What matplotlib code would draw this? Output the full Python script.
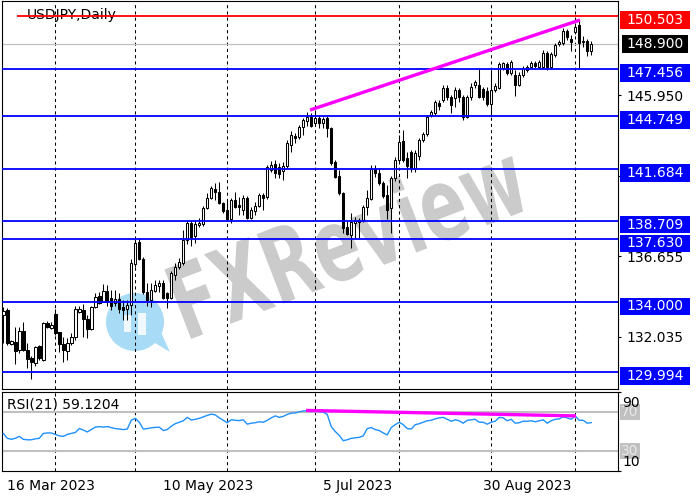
import numpy as np
import pandas as pd
import matplotlib
matplotlib.use('Agg')
import matplotlib.pyplot as plt
import matplotlib.transforms as mtransforms
from matplotlib.patches import Rectangle, Circle, Polygon, PathPatch
from matplotlib.textpath import TextPath
from matplotlib.font_manager import FontProperties

symbol = 'USDJPY,Daily'
start_date = '2023-03-15'

opens = [133.28, 133.57, 131.61, 131.72, 131.26, 132.36, 131.26, 130.80, 130.51, 131.49,
         130.68, 132.82, 132.53, 133.34, 132.30, 131.61, 131.20, 131.66, 132.01, 133.45,
         133.57, 133.05, 132.47, 133.74, 134.37, 134.03, 134.66, 134.26, 133.97, 134.20,
         133.74, 133.62, 133.85, 136.22, 137.48, 136.51, 134.60, 134.14, 134.66, 134.95,
         135.12, 134.55, 134.26, 135.58, 136.04, 136.28, 137.60, 138.58, 137.83, 138.46,
         138.52, 139.44, 140.02, 140.54, 140.37, 139.73, 139.33, 138.81, 139.91, 139.62,
         139.33, 140.02, 138.87, 139.27, 139.56, 140.19, 140.08, 141.64, 141.98, 141.81,
         141.58, 141.87, 143.08, 143.59, 143.54, 144.11, 144.46, 144.69, 144.34, 144.63,
         144.34, 144.63, 144.06, 142.10, 141.29, 140.31, 138.35, 137.89, 138.58, 138.64,
         138.75, 139.50, 139.96, 141.69, 141.46, 140.89, 140.19, 139.44, 141.17, 142.21,
         143.31, 142.33, 142.67, 141.75, 142.44, 143.36, 143.71, 144.80, 144.92, 145.50,
         145.67, 146.36, 145.84, 145.78, 146.25, 145.84, 144.69, 145.84, 146.53, 146.53,
         146.30, 146.19, 145.44, 146.25, 146.36, 147.51, 147.74, 147.23, 147.11, 146.53,
         147.11, 147.40, 147.57, 147.80, 147.57, 147.57, 148.38, 147.57, 148.26, 148.90,
         148.96, 149.65, 149.18, 149.59, 149.99, 149.01, 149.07, 148.49]
highs = [133.74, 133.68, 131.84, 132.58, 132.58, 132.87, 131.66, 130.91, 131.49, 131.55,
         132.87, 132.93, 132.87, 133.62, 132.30, 132.01, 131.95, 132.24, 133.80, 133.80,
         133.91, 133.28, 133.80, 134.55, 134.60, 135.06, 135.01, 134.72, 134.72, 134.55,
         134.14, 134.14, 136.51, 137.66, 137.72, 136.62, 135.12, 135.12, 135.30, 135.30,
         135.30, 134.60, 135.81, 136.28, 136.56, 138.18, 138.75, 138.70, 138.75, 138.87,
         139.56, 140.31, 140.71, 140.89, 140.94, 139.79, 139.91, 140.02, 140.37, 140.08,
         140.19, 140.14, 139.50, 139.79, 140.31, 140.31, 141.92, 142.15, 142.21, 142.04,
         142.10, 143.36, 143.88, 143.77, 144.23, 144.63, 144.98, 144.92, 145.09, 144.75,
         144.69, 144.75, 144.11, 142.21, 141.64, 140.37, 138.70, 139.16, 138.93, 138.87,
         139.62, 140.48, 141.92, 141.92, 141.75, 141.00, 140.77, 141.29, 142.38, 143.65,
         143.94, 142.67, 142.79, 142.79, 143.48, 143.83, 144.80, 145.09, 145.67, 145.67,
         146.53, 146.53, 145.96, 146.42, 146.36, 145.96, 145.96, 146.65, 146.82, 147.51,
         146.42, 146.42, 147.40, 146.65, 147.86, 147.86, 147.86, 147.98, 147.40, 147.28,
         147.63, 147.69, 147.92, 147.92, 147.98, 148.55, 148.49, 148.44, 148.96, 149.13,
         149.82, 149.76, 149.42, 150.11, 150.22, 149.36, 149.18, 149.07]
lows = [131.66, 131.55, 131.55, 130.45, 131.09, 131.20, 130.22, 129.59, 130.34, 130.68,
        130.63, 132.53, 132.47, 132.12, 131.15, 130.57, 130.68, 131.55, 131.84, 133.39,
        132.01, 131.95, 132.41, 133.68, 133.91, 134.03, 133.80, 133.57, 133.80, 133.39,
        132.99, 132.99, 133.28, 136.04, 136.45, 134.49, 133.80, 133.74, 134.60, 134.60,
        134.20, 133.68, 134.20, 135.30, 135.93, 136.16, 137.37, 137.25, 137.43, 138.35,
        138.41, 139.39, 139.96, 139.91, 139.67, 139.16, 138.75, 138.58, 139.44, 139.04,
        139.04, 138.81, 138.81, 139.04, 139.50, 139.33, 139.96, 141.52, 141.17, 141.17,
        141.06, 141.75, 142.67, 143.19, 143.42, 143.65, 144.17, 144.11, 144.23, 144.06,
        144.06, 143.54, 141.92, 141.17, 140.19, 138.00, 137.89, 137.14, 137.72, 137.72,
        138.64, 139.04, 139.91, 141.23, 140.77, 140.02, 138.81, 138.00, 141.00, 142.10,
        142.10, 141.17, 141.52, 141.52, 142.21, 143.25, 143.59, 144.69, 144.80, 145.09,
        145.55, 145.67, 144.92, 145.27, 145.55, 144.52, 144.63, 145.67, 146.36, 145.78,
        145.67, 145.32, 144.80, 146.13, 146.30, 147.40, 147.11, 147.11, 145.90, 146.48,
        146.99, 147.28, 147.51, 147.51, 147.51, 147.46, 147.40, 147.46, 148.15, 148.78,
        148.84, 149.13, 148.49, 149.47, 147.51, 148.72, 148.20, 148.26]
closes = [133.51, 131.66, 131.78, 131.20, 132.36, 131.26, 130.74, 130.57, 131.43, 130.80,
          132.82, 132.59, 132.70, 132.24, 131.61, 131.26, 131.66, 132.01, 133.62, 133.62,
          133.05, 132.47, 133.74, 134.32, 133.97, 134.66, 134.03, 133.80, 134.20, 133.62,
          133.57, 133.85, 136.28, 137.43, 136.51, 134.60, 134.14, 134.72, 135.01, 135.12,
          134.26, 134.26, 135.70, 136.04, 136.33, 137.60, 138.58, 137.77, 138.52, 138.58,
          139.44, 140.02, 140.60, 140.37, 139.73, 139.27, 138.81, 139.91, 139.50, 139.50,
          140.02, 138.87, 139.33, 139.56, 140.19, 140.02, 141.81, 141.92, 141.46, 141.40,
          141.87, 143.19, 143.65, 143.48, 144.11, 144.52, 144.69, 144.17, 144.63, 144.34,
          144.57, 144.06, 142.04, 141.23, 140.31, 138.29, 137.94, 138.64, 138.70, 138.75,
          139.50, 140.02, 141.69, 141.46, 140.89, 140.14, 139.33, 141.17, 142.21, 143.25,
          142.21, 141.87, 141.75, 142.62, 143.36, 143.71, 144.69, 144.98, 145.55, 145.32,
          146.36, 145.84, 145.38, 146.25, 145.84, 144.69, 145.84, 146.42, 146.71, 145.84,
          145.84, 145.44, 146.25, 146.48, 147.74, 147.80, 147.23, 147.86, 146.53, 147.11,
          147.51, 147.57, 147.80, 147.63, 147.86, 148.38, 147.57, 148.32, 148.84, 149.01,
          149.65, 149.30, 149.01, 149.88, 148.96, 149.07, 148.49, 148.90]
rsi = [48, 43, 42, 43, 45, 42, 41.5, 41.5, 42.5, 43,
       48, 48.5, 48.5, 47, 45.5, 45, 47, 48, 49, 53,
       51.5, 49.5, 52, 54.5, 55, 54.5, 55, 54, 53, 52.5,
       52, 52.5, 61.5, 63.5, 59.5, 52.5, 53, 53.8, 54.2, 54.4,
       51, 52, 55.5, 58, 59.5, 61, 64.5, 61.8, 62.5, 63.5,
       65, 66.5, 67.8, 67, 64, 61.5, 59, 62, 61.5, 61.2,
       62, 57.5, 58.5, 59, 60, 59.5, 61.5, 64, 66, 64.5,
       65.5, 67.5, 68.8, 69, 70.2, 71, 71.3, 70.5, 71, 70.3,
       69.8, 67.5, 55, 50, 46, 40.6, 41.5, 43, 43.5, 44,
       45.5, 53, 54, 52, 51, 48.5, 46.5, 54, 57, 59.5,
       57, 53, 52.5, 57, 58, 59.5, 61, 61.5, 63, 64,
       64.5, 62.5, 60.5, 62, 61, 58.5, 61.5, 62, 62.5, 59.5,
       59.5, 57.5, 59.5, 60.5, 64.5, 64, 61, 62.5, 58.5, 59,
       60.5, 60.5, 61, 60, 61, 62, 58.5, 61, 62.5, 63,
       65, 64, 62.5, 66, 61.5, 61.5, 58.5, 59.1204]

levels = [150.503, 147.456, 144.749, 141.684, 138.709, 137.630, 134.000, 129.994]
level_colors = ['#ff0000', '#0000ff', '#0000ff', '#0000ff', '#0000ff', '#0000ff', '#0000ff', '#0000ff']
axis_ticks = [145.950, 141.290, 136.655, 132.035]
date_labels = ['16 Mar 2023', '10 May 2023', '5 Jul 2023', '30 Aug 2023']
trend_idx = [76.7, 144.2]
trend_px = [145.09, 150.28]
rsi_trend_idx = [75.7, 143.2]
rsi_trend_val = [71.6, 66.0]
rsi_levels = [70, 30]

W, H = 700, 500
fig = plt.figure(figsize=(7, 5), dpi=100)
ax = fig.add_axes([2 / W, 1 - 389 / H, 616 / W, 388.5 / H])
ax2 = fig.add_axes([2 / W, 1 - 470.7 / H, 616 / W, 78.7 / H])
px = mtransforms.IdentityTransform()

n = len(closes)
idx = np.arange(n)
dates = pd.bdate_range(start_date, periods=n)
o, h, l, c = map(np.array, (opens, highs, lows, closes))
xlim = (-0.33, 153.7)

# candles
ax.vlines(idx, l, h, color='black', lw=0.75, zorder=3)
ax.bar(idx, np.maximum(np.abs(c - o), 0.015), bottom=np.minimum(o, c), width=0.6,
       color=np.where(c >= o, 'white', 'black'), edgecolor='black', linewidth=0.75, zorder=4)

# month separators
month_start = [i for i in range(1, n) if dates[i].month != dates[i - 1].month]
for a in (ax, ax2):
    for i in month_start:
        a.axvline(i, color='black', lw=0.75, ls=(0, (3, 3)), zorder=1)
    a.set_xlim(*xlim)
    for s in a.spines.values():
        s.set_linewidth(0.8)

# levels
for lev, col in zip(levels, level_colors):
    x0 = 3.4 if col == '#ff0000' else xlim[0]
    ax.hlines(lev, x0, xlim[1], color=col, lw=1.3, zorder=5)
ax.axhline(closes[-1], color='#c0c0c0', lw=0.9, zorder=2)
ax.plot(trend_idx, trend_px, color='#ff00ff', lw=2.4, solid_capstyle='butt', zorder=6)

ax.set_ylim(129.012, 151.404)
ax.yaxis.tick_right()
ax.set_yticks(axis_ticks, [f'{t:.3f}' for t in axis_ticks])
ax.tick_params(axis='y', length=2.5, width=0.8, pad=3.5, labelsize=10)
ax.set_xticks([])
ax.text(0.0406, 0.963, symbol, transform=ax.transAxes, fontsize=10, va='center', ha='left', zorder=2)

# watermark (tall, narrow lettering)
tp = TextPath((0, 0), 'FXReview', size=68, prop=FontProperties(family='DejaVu Sans', weight='bold'))
ext = tp.get_extents()
wm_tr = (mtransforms.Affine2D()
         .translate(-(ext.x0 + ext.x1) / 2, -(ext.y0 + ext.y1) / 2)
         .scale(1.0, 1.5).rotate_deg(21).translate(348, 262))
ax.add_patch(PathPatch(tp, transform=wm_tr, facecolor='#cbcbcb', edgecolor='none', zorder=0.5))
ax.add_patch(Circle((135, 178), 29, transform=px, facecolor='#a8dcf6', edgecolor='none', zorder=0.6))
ax.add_patch(Polygon([(150, 160), (170, 148), (160, 170)], transform=px, facecolor='#a8dcf6',
                     edgecolor='none', zorder=0.6))
ax.add_patch(Rectangle((124, 168), 7, 17, transform=px, facecolor='#eef8fd', edgecolor='none', zorder=0.7))
ax.add_patch(Rectangle((138, 165), 8, 22, transform=px, facecolor='#eef8fd', edgecolor='none', zorder=0.7))


def price_box(value, face, shift, x0=620, w=70):
    yd = ax.transData.transform((0, value))[1] - shift
    fig.add_artist(Rectangle((x0, yd - 8.7), w, 17.4, transform=px, facecolor=face,
                             edgecolor='none', zorder=3))
    fig.text(626.5, yd, f'{value:.3f}', transform=px, color='white', fontsize=10,
             ha='left', va='center', zorder=4)


for lev, col in zip(levels, level_colors):
    price_box(lev, col, 4)
price_box(closes[-1], 'black', 0, x0=622, w=66)

# RSI panel
ax2.plot(idx, rsi, color='#1e90ff', lw=1.0, zorder=3)
for lv in rsi_levels:
    ax2.axhline(lv, color='#c0c0c0', lw=1.5, zorder=2)
ax2.plot(rsi_trend_idx, rsi_trend_val, color='#ff00ff', lw=2.4, solid_capstyle='butt', zorder=4)
ax2.set_ylim(9.8, 90.5)
ax2.yaxis.tick_right()
ax2.set_yticks([90, 10], ['', ''])
ax2.tick_params(axis='y', length=2.5, width=0.8)
ax2.text(0.008, 0.835, f'RSI(21) {rsi[-1]:.4f}', transform=ax2.transAxes, fontsize=10,
         va='center', ha='left', zorder=5)
for lv in rsi_levels:
    yd = ax2.transData.transform((0, lv))[1]
    fig.add_artist(Rectangle((620, yd - 8), 20, 16, transform=px, facecolor='#c0c0c0',
                             edgecolor='none', zorder=3))
    fig.text(630, yd, str(lv), transform=px, color='#e8e8e8', fontsize=10, ha='center',
             va='center', zorder=4)
fig.text(622, 97, '90', transform=px, fontsize=10, ha='left', va='center', zorder=5)
fig.text(622, 38, '10', transform=px, fontsize=10, ha='left', va='center', zorder=5)

label_idx = [dates.get_loc(pd.to_datetime(d)) for d in date_labels]
ax2.set_xticks(label_idx, date_labels)
ax2.tick_params(axis='x', length=0, pad=6, labelsize=10)
for t in ax2.get_xticklabels():
    t.set_ha('left')

fig.savefig('out.png', dpi=100)
